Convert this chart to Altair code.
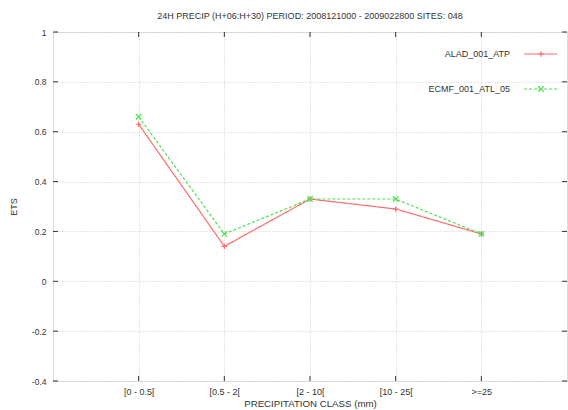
import altair as alt
import pandas as pd

categories = ["[0 - 0.5[", "[0.5 - 2[", "[2 - 10[", "[10 - 25[", ">=25"]
series_names = ["ALAD_001_ATP", "ECMF_001_ATL_05"]
alad_values = [0.63, 0.14, 0.33, 0.29, 0.19]
ecmf_values = [0.66, 0.19, 0.33, 0.33, 0.19]
y_ticks = [-0.4, -0.2, 0, 0.2, 0.4, 0.6, 0.8, 1]
x_ticks = [1, 2, 3, 4, 5]

rows = []
for i, c in enumerate(categories):
    rows.append({"series": series_names[0], "x": i + 1, "ets": alad_values[i]})
    rows.append({"series": series_names[1], "x": i + 1, "ets": ecmf_values[i]})
df = pd.DataFrame(rows)

W, H = 514, 349
FONT = "Liberation Sans"
RED = "#ff6b6b"
GREEN = "#4fe04f"
PLUS = "M-1,0L1,0M0,-1L0,1"
XSHAPE = "M-1,-1L1,1M-1,1L1,-1"

label_expr = "[" + ",".join("'" + c + "'" for c in categories) + "][datum.value - 1]"

xscale = alt.Scale(domain=[0, 6], nice=False, zero=False)
yscale = alt.Scale(domain=[-0.4, 1], nice=False, zero=False)

xaxis = alt.Axis(values=x_ticks, labelExpr=label_expr, title="PRECIPITATION CLASS (mm)",
                 grid=True, gridDash=[1, 2], gridColor="#cccccc", ticks=False, domain=False,
                 labelPadding=6, titlePadding=2, labelFont=FONT, titleFont=FONT,
                 labelFontSize=9, titleFontSize=9.7, titleFontWeight="normal",
                 labelColor="#333", titleColor="#333")
yaxis = alt.Axis(values=y_ticks, labelExpr="'' + round(datum.value*10)/10", title="ETS",
                 grid=True, gridDash=[1, 2], gridColor="#cccccc", ticks=False, domain=False,
                 labelPadding=7, titlePadding=13, labelFont=FONT, titleFont=FONT,
                 labelFontSize=8.5, titleFontSize=9, titleFontWeight="normal",
                 labelColor="#333", titleColor="#333")

color_scale = alt.Scale(domain=series_names, range=[RED, GREEN])
dash_scale = alt.Scale(domain=series_names, range=[[1, 0], [3, 2]])
shape_scale = alt.Scale(domain=series_names, range=[PLUS, XSHAPE])

base = alt.Chart(df)
lines = base.mark_line(strokeWidth=1.2).encode(
    x=alt.X("x:Q", scale=xscale, axis=xaxis),
    y=alt.Y("ets:Q", scale=yscale, axis=yaxis),
    color=alt.Color("series:N", scale=color_scale, legend=None),
    strokeDash=alt.StrokeDash("series:N", scale=dash_scale, legend=None),
    detail="series:N",
)
points = base.mark_point(filled=False, size=30, strokeWidth=1.2, opacity=1).encode(
    x=alt.X("x:Q", scale=xscale),
    y=alt.Y("ets:Q", scale=yscale),
    color=alt.Color("series:N", scale=color_scale, legend=None),
    shape=alt.Shape("series:N", scale=shape_scale, legend=None),
)

xt = pd.DataFrame({"x": x_ticks})
yt = pd.DataFrame({"y": y_ticks})
tick_color = "#333"
xt_bottom = alt.Chart(xt).mark_rule(color=tick_color, strokeWidth=1).encode(
    x=alt.X("x:Q", scale=xscale), y=alt.value(H), y2=alt.value(H - 5))
xt_top = alt.Chart(xt).mark_rule(color=tick_color, strokeWidth=1).encode(
    x=alt.X("x:Q", scale=xscale), y=alt.value(0), y2=alt.value(5))
yt_left = alt.Chart(yt).mark_rule(color=tick_color, strokeWidth=1).encode(
    y=alt.Y("y:Q", scale=yscale), x=alt.value(0), x2=alt.value(5))
yt_right = alt.Chart(yt).mark_rule(color=tick_color, strokeWidth=1).encode(
    y=alt.Y("y:Q", scale=yscale), x=alt.value(W - 5), x2=alt.value(W))

leg = pd.DataFrame({"series": series_names})
legend_layers = []
for i, name in enumerate(series_names):
    ly = 22 + 35 * i
    d = leg[leg.series == name]
    legend_layers.append(alt.Chart(d).mark_text(align="right", baseline="middle", font=FONT,
                                                fontSize=9, color="#333").encode(
        x=alt.value(457), y=alt.value(ly), text="series:N"))
    legend_layers.append(alt.Chart(d).mark_rule(strokeWidth=1.2, color=[RED, GREEN][i],
                                                strokeDash=[[1, 0], [3, 2]][i]).encode(
        x=alt.value(471), x2=alt.value(504), y=alt.value(ly)))
    legend_layers.append(alt.Chart(d).mark_point(filled=False, size=30, strokeWidth=1.2, opacity=1,
                                                 color=[RED, GREEN][i], shape=[PLUS, XSHAPE][i]).encode(
        x=alt.value(488), y=alt.value(ly)))

chart = alt.layer(lines, points, xt_bottom, xt_top, yt_left, yt_right, *legend_layers).properties(
    width=W, height=H,
    title=alt.TitleParams("24H PRECIP (H+06:H+30) PERIOD: 2008121000 - 2009022800 SITES: 048",
                          font=FONT, fontSize=9, fontWeight="normal", color="#333",
                          anchor="middle", offset=7),
    autosize=alt.AutoSizeParams(type="none"),
    padding={"left": 53, "top": 32, "right": 1, "bottom": 29},
).configure_view(stroke="#333", strokeWidth=1.3).configure(background="white")

chart.save("out.html", embed_options={"renderer": "svg", "actions": False})
